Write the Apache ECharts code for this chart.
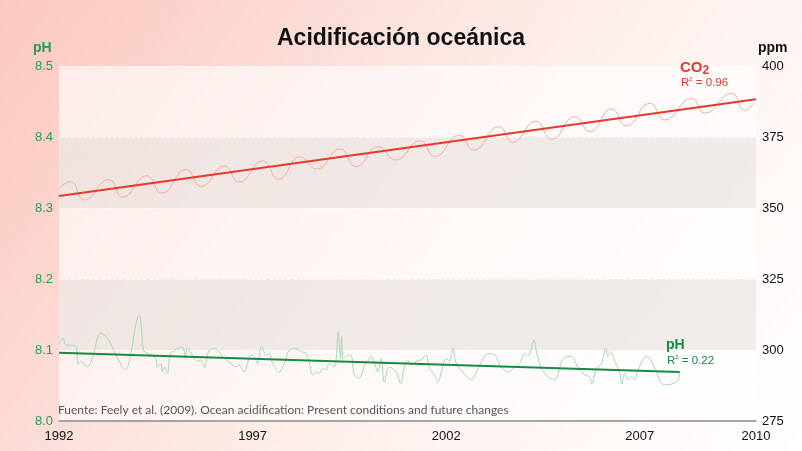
<!DOCTYPE html>
<html>
<head>
<meta charset="utf-8">
<script src="https://cdn.jsdelivr.net/npm/echarts@6/dist/echarts.min.js"></script>
<style>
html,body{margin:0;padding:0;}
body{width:802px;height:451px;overflow:hidden;
background:linear-gradient(125deg,#fbc8bf 0%,#fcd7d0 22%,#fde9e4 45%,#fff5f3 70%,#ffffff 100%);}
#chart{width:802px;height:451px;}
</style>
</head>
<body>
<div id="chart"></div>
<script>
// ---- data ----
const xTicks = [1992, 1997, 2002, 2007, 2010];
const phTicks = [8.0, 8.1, 8.2, 8.3, 8.4, 8.5];
const ppmTicks = [275, 300, 325, 350, 375, 400];

const co2Years = [1992.00,1992.30,1992.65,1993.29,1993.64,1994.27,1994.65,1995.28,1995.66,1996.27,1996.65,1997.26,1997.67,1998.22,1998.65,1999.26,1999.67,2000.25,2000.69,2001.33,2001.70,2002.34,2002.71,2003.36,2003.72,2004.31,2004.72,2005.32,2005.71,2006.27,2006.65,2007.26,2007.64,2008.34,2008.68,2009.37,2009.71,2009.93];
const co2Values = [357.0,359.3,352.8,360.1,353.8,361.4,355.2,363.6,357.5,364.8,359.1,366.6,360.1,368.0,363.7,370.8,364.5,371.6,366.9,373.7,368.1,375.6,370.4,378.6,373.1,380.6,374.2,382.2,376.9,384.9,378.9,386.9,381.0,388.6,383.4,390.4,384.3,386.9];

const co2TrendYears = [1992, 2010];
const co2TrendValues = [354.2, 388.3];

const phYears = [1992.00,1992.10,1992.17,1992.43,1992.49,1992.56,1992.73,1992.86,1993.08,1993.25,1993.47,1993.72,1993.85,1993.98,1994.07,1994.13,1994.18,1994.37,1994.50,1994.54,1994.63,1994.67,1994.72,1994.80,1994.89,1995.19,1995.26,1995.32,1995.49,1995.58,1995.66,1995.75,1995.88,1996.01,1996.27,1996.44,1996.57,1996.65,1996.78,1996.96,1997.04,1997.13,1997.23,1997.35,1997.43,1997.52,1997.69,1997.82,1997.95,1998.12,1998.25,1998.38,1998.46,1998.55,1998.64,1998.72,1998.81,1998.90,1998.98,1999.11,1999.16,1999.21,1999.27,1999.30,1999.34,1999.41,1999.53,1999.63,1999.76,1999.89,1999.97,2000.06,2000.15,2000.23,2000.32,2000.40,2000.53,2000.71,2000.82,2000.92,2001.01,2001.09,2001.22,2001.35,2001.48,2001.57,2001.70,2001.78,2001.91,2002.00,2002.09,2002.17,2002.26,2002.43,2002.65,2002.77,2002.86,2003.08,2003.25,2003.42,2003.59,2003.77,2003.90,2004.02,2004.11,2004.27,2004.33,2004.46,2004.63,2004.80,2005.02,2005.23,2005.40,2005.58,2005.71,2005.75,2005.88,2006.01,2006.12,2006.18,2006.25,2006.35,2006.48,2006.53,2006.61,2006.70,2006.78,2006.87,2006.95,2007.17,2007.30,2007.43,2007.56,2007.73,2007.86,2007.99,2008.03];
const phValues = [8.109,8.117,8.108,8.105,8.080,8.084,8.076,8.088,8.124,8.117,8.093,8.072,8.093,8.135,8.149,8.131,8.100,8.093,8.088,8.076,8.081,8.069,8.076,8.067,8.095,8.104,8.088,8.103,8.088,8.084,8.086,8.076,8.100,8.102,8.088,8.081,8.076,8.079,8.069,8.093,8.091,8.081,8.105,8.093,8.095,8.081,8.069,8.081,8.100,8.102,8.098,8.095,8.084,8.065,8.069,8.067,8.074,8.072,8.081,8.076,8.088,8.126,8.088,8.119,8.088,8.091,8.093,8.065,8.060,8.079,8.084,8.091,8.081,8.069,8.088,8.055,8.076,8.069,8.053,8.076,8.086,8.079,8.084,8.086,8.093,8.074,8.065,8.055,8.076,8.088,8.084,8.103,8.081,8.069,8.058,8.067,8.078,8.095,8.093,8.076,8.069,8.076,8.081,8.095,8.091,8.114,8.098,8.074,8.062,8.058,8.088,8.091,8.076,8.065,8.062,8.052,8.074,8.081,8.102,8.091,8.098,8.084,8.069,8.052,8.067,8.058,8.062,8.058,8.072,8.091,8.084,8.069,8.053,8.051,8.053,8.058,8.069];

const phTrendYears = [1992, 2008.03];
const phTrendValues = [8.096, 8.069];

const zip = (a, b) => a.map((v, i) => [v, b[i]]);

const chart = echarts.init(document.getElementById('chart'), null, {renderer: 'canvas'});
const FONT = 'Liberation Sans, Arial, sans-serif';
const RED = '#e63a2c', RED_L = '#f7aba4';
const GREEN = '#178a44', GREEN_L = '#a3d9b4';

chart.setOption({
  animation: false,
  backgroundColor: 'transparent',
  title: {
    text: 'Acidificación oceánica',
    left: 'center', top: 22,
    textStyle: {fontFamily: FONT, fontSize: 23, fontWeight: 'bold', color: '#111'}
  },
  grid: {left: 59, right: 46, top: 66, bottom: 30},
  xAxis: {
    type: 'value', min: 1992, max: 2010, interval: 5,
    axisLine: {show: true, lineStyle: {color: '#8a8a8a', width: 1.5}},
    axisTick: {show: false},
    splitLine: {show: false},
    axisLabel: {
      color: '#111', fontFamily: FONT, fontSize: 13, margin: 9,
      showMinLabel: true, showMaxLabel: true,
      formatter: v => xTicks.includes(Math.round(v)) ? String(Math.round(v)) : ''
    }
  },
  yAxis: [{
    type: 'value', min: 8.0, max: 8.5, interval: 0.1, position: 'left',
    axisLine: {show: false}, axisTick: {show: false},
    axisLabel: {color: '#2a9a52', fontFamily: FONT, fontSize: 13, margin: 6,
      formatter: v => phTicks.find(t => Math.abs(t - v) < 1e-6).toFixed(1)},
    splitLine: {show: true, lineStyle: {color: 'rgba(255,255,255,0.6)', type: 'dashed', width: 1}},
    splitArea: {show: true, areaStyle: {color: ['rgba(255,255,255,0.62)', 'rgba(236,232,230,0.78)']}}
  }, {
    type: 'value', min: 275, max: 400, interval: 25, position: 'right',
    axisLine: {show: false}, axisTick: {show: false},
    axisLabel: {color: '#111', fontFamily: FONT, fontSize: 13, margin: 6,
      formatter: v => String(ppmTicks.find(t => Math.abs(t - v) < 1e-6))},
    splitLine: {show: false}
  }],
  series: [
    {type: 'line', yAxisIndex: 1, data: zip(co2Years, co2Values), smooth: 0.5, showSymbol: false,
     lineStyle: {color: RED_L, width: 1}, z: 2},
    {type: 'line', yAxisIndex: 1, data: zip(co2TrendYears, co2TrendValues), showSymbol: false,
     lineStyle: {color: RED, width: 2}, z: 3},
    {type: 'line', yAxisIndex: 0, data: zip(phYears, phValues), smooth: 0.35, showSymbol: false,
     lineStyle: {color: GREEN_L, width: 1}, z: 2},
    {type: 'line', yAxisIndex: 0, data: zip(phTrendYears, phTrendValues), showSymbol: false,
     lineStyle: {color: GREEN, width: 2}, z: 3}
  ],
  graphic: [
    {type: 'text', z: 100, left: 33, top: 41, style: {text: 'pH', font: 'bold 14px ' + FONT, fill: '#2a9a52'}},
    {type: 'text', z: 100, left: 758, top: 41, style: {text: 'ppm', font: 'bold 14px ' + FONT, fill: '#111'}},
    {type: 'text', z: 100, left: 680, top: 60, style: {
      text: '{a|CO}{b|2}', rich: {
        a: {font: 'bold 15px ' + FONT, fill: RED},
        b: {font: 'bold 12px ' + FONT, fill: RED, padding: [6, 0, 0, 0]}}}},
    {type: 'text', z: 100, left: 681, top: 76, style: {
      text: '{a|R}{s|2}{a| = 0.96}', rich: {
        a: {font: '11.5px ' + FONT, fill: RED},
        s: {font: '6px ' + FONT, fill: RED, padding: [0, 0, 7, 0]}}}},
    {type: 'text', z: 100, left: 666, top: 338, style: {text: 'pH', font: 'bold 14px ' + FONT, fill: GREEN}},
    {type: 'text', z: 100, left: 667, top: 354, style: {
      text: '{a|R}{s|2}{a| = 0.22}', rich: {
        a: {font: '11.5px ' + FONT, fill: GREEN},
        s: {font: '6px ' + FONT, fill: GREEN, padding: [0, 0, 7, 0]}}}},
    {type: 'text', z: 100, left: 58, top: 404, style: {
      text: 'Fuente: Feely et al. (2009). Ocean acidification: Present conditions and future changes',
      font: '12px Lato, sans-serif', fill: '#555'}}
  ]
});
</script>
</body>
</html>
